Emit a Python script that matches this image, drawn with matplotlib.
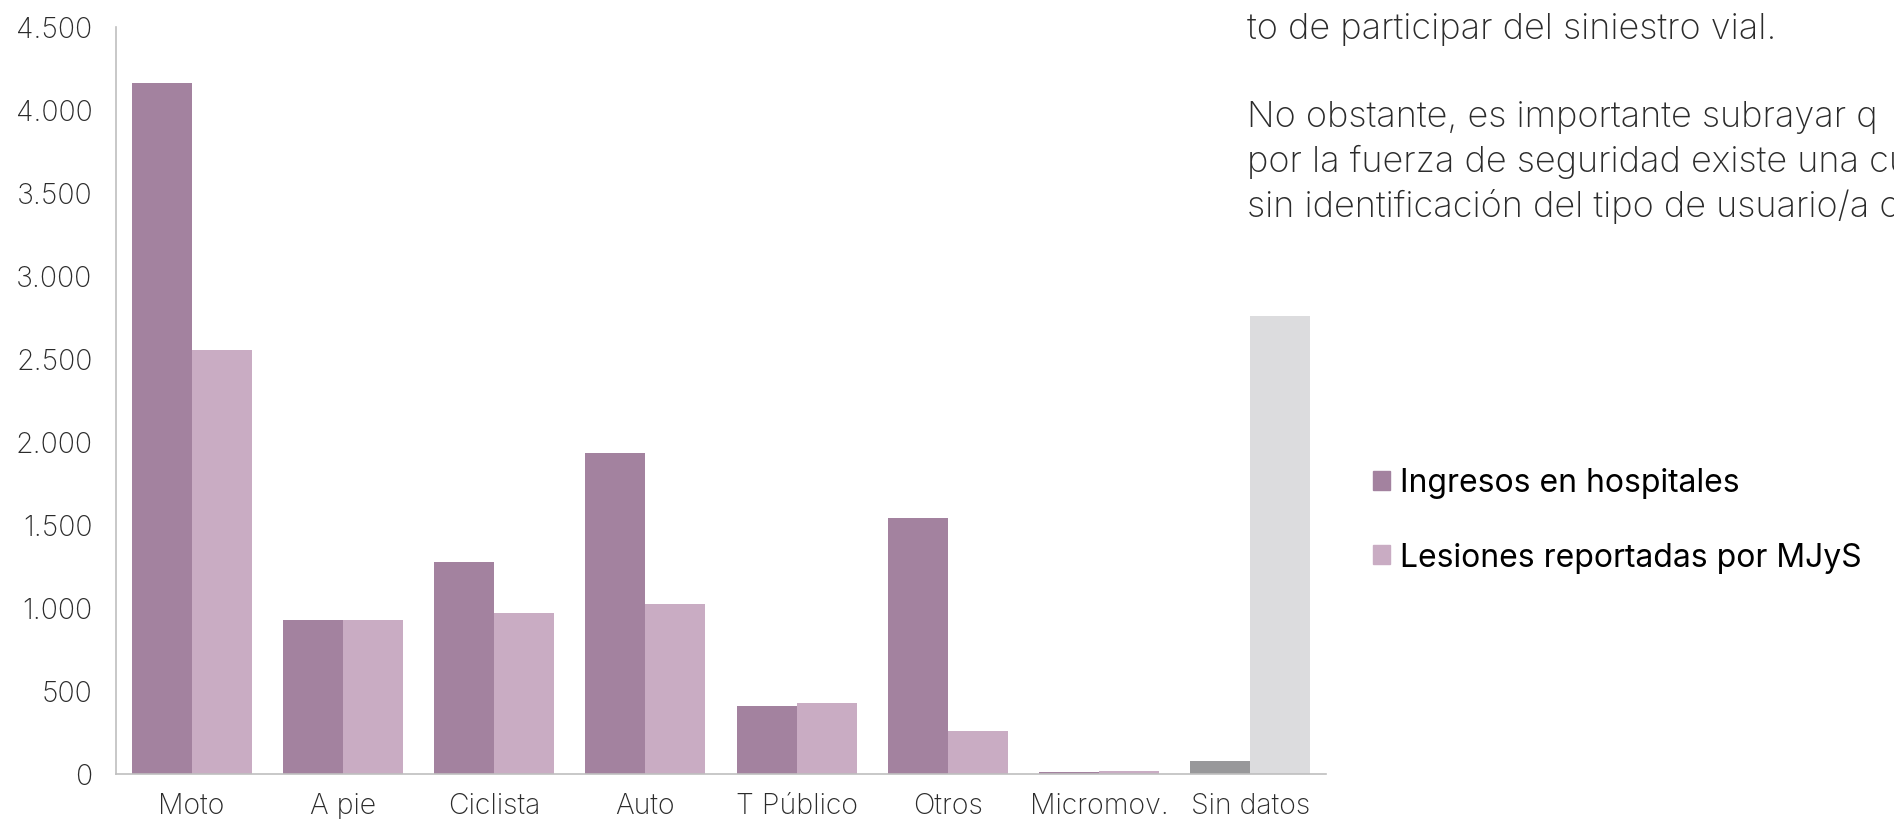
import numpy as np
import matplotlib.pyplot as plt
from matplotlib.patches import Patch

# Data
categorias = ["Moto", "A pie", "Ciclista", "Auto", "T Público", "Otros", "Micromov.", "Sin datos"]
ingresos_hospitales = [4160, 925, 1280, 1935, 410, 1545, 12, 78]
lesiones_mjys = [2555, 930, 968, 1025, 428, 260, 18, 2762]
yticks = [0, 500, 1000, 1500, 2000, 2500, 3000, 3500, 4000, 4500]
ytick_labels = ["0", "500", "1.000", "1.500", "2.000", "2.500", "3.000", "3.500", "4.000", "4.500"]
legend_labels = ["Ingresos en hospitales", "Lesiones reportadas por MJyS"]
texto_lineas = [
    "to de participar del siniestro vial.",
    "",
    "No obstante, es importante subrayar q",
    "por la fuerza de seguridad existe una cu",
    "sin identificación del tipo de usuario/a c",
]

c_dark = "#a3829f"
c_light = "#c9acc3"
c_gray_dark = "#98989a"
c_gray_light = "#dcdcde"

plt.rcParams["font.family"] = ["Inter", "DejaVu Sans"]

fig = plt.figure(figsize=(18.94, 8.2), dpi=100)
ax = fig.add_axes([116 / 1894, 45 / 820, 1210 / 1894, 747 / 820])

x = np.arange(len(categorias))
w = 0.397
dark_colors = [c_dark] * (len(categorias) - 1) + [c_gray_dark]
light_colors = [c_light] * (len(categorias) - 1) + [c_gray_light]
ax.bar(x - w, ingresos_hospitales, width=w, align="edge", color=dark_colors)
ax.bar(x, lesiones_mjys, width=w, align="edge", color=light_colors)

ax.set_xlim(-0.5, len(categorias) - 0.5)
ax.set_ylim(0, 4500)
ax.set_yticks(yticks)
ax.set_yticklabels(ytick_labels, fontsize=20.5, fontweight="light", color="#2b2b2b")
ax.set_xticks(x)
ax.set_xticklabels(categorias, fontsize=20.5, fontweight="light", color="#2b2b2b")
ax.tick_params(axis="both", length=0)
ax.tick_params(axis="y", pad=17)
ax.tick_params(axis="x", pad=13)

for s in ["top", "right"]:
    ax.spines[s].set_visible(False)
for s in ["left", "bottom"]:
    ax.spines[s].set_color("#bfbfbf")
    ax.spines[s].set_linewidth(1.2)

handles = [Patch(color=c_dark), Patch(color=c_light)]
fig.legend(
    handles,
    legend_labels,
    loc="center left",
    bbox_to_anchor=(1344 / 1894, 1 - 521 / 820),
    frameon=False,
    fontsize=23,
    handlelength=0.55,
    handleheight=0.55,
    handletextpad=0.3,
    labelspacing=1.35,
)

# paragraph from the page, cut off at the right edge as in the original
y_pos = [30, 74, 118, 162, 207]
for linea, yp in zip(texto_lineas, y_pos):
    fig.text(1247 / 1894, 1 - yp / 820, linea, fontsize=26, fontweight="light",
             color="#2b2b2b", va="center", ha="left")

fig.savefig("out.png", dpi=100)
